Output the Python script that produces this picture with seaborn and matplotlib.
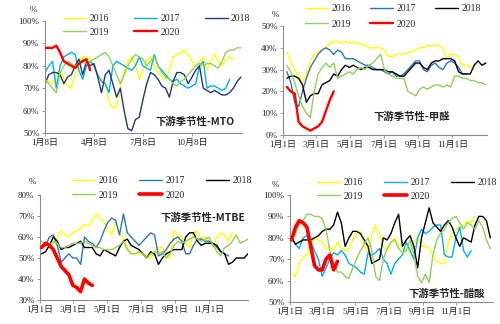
import numpy as np
import pandas as pd
import matplotlib
matplotlib.use("Agg")
import matplotlib.pyplot as plt
from matplotlib.lines import Line2D
import seaborn as sns

sns.set_theme(style="white")
plt.rcParams['font.family'] = ['Liberation Serif', 'Noto Sans CJK SC', 'DejaVu Sans']

years = ['2016', '2017', '2018', '2019', '2020']

# ---------------- MTO ----------------
mto_2016 = [74, 73, 72, 76, 78, 74, 71, 70, 76, 82, 84, 84, 83, 80, 76, 74, 72, 64, 61, 62,
            70, 78, 82, 84, 80, 74, 78, 82, 84, 80, 77, 75, 74, 78, 84, 85, 86, 87, 85, 82,
            80, 82, 84, 78, 82, 85, 82, 80, 83, 84, 83]
mto_2017 = [77, 80, 82, 70, 80, 84, 85, 86, 85, 78, 74, 80, 82, 80, 76, 73, 72, 68, 80, 82,
            81, 80, 79, 78, 80, 84, 80, 79, 78, 85, 80, 78, 76, 74, 73, 74, 72, 71, 70, 71,
            72, 80, 82, 70, 71, 71, 70, 69, 70, 74]
mto_2018 = [72, 76, 77, 77, 76, 72, 75, 76, 80, 83, 76, 82, 80, 81, 75, 68, 76, 78, 72, 66,
            70, 60, 52, 51, 56, 57, 65, 72, 77, 76, 74, 71, 70, 66, 73, 77, 77, 76, 72, 75,
            78, 80, 70, 69, 68, 69, 68, 67, 67, 68, 70, 73, 75]
mto_2019 = [74, 72, 70, 68, 77, 80, 82, 81, 80, 81, 83, 81, 82, 83, 84, 85, 86, 84, 80, 76,
            72, 76, 80, 83, 85, 84, 83, 80, 82, 84, 80, 77, 75, 74, 72, 71, 73, 74, 76, 78,
            80, 81, 80, 81, 81, 80, 79, 82, 86, 87, 87, 88, 88]
mto_2020 = [88, 88, 88, 89, 86, 82, 81, 80, 79, 81, 82, 83, 78]

# ---------------- 甲醛 ----------------
meth_2016 = [38, 34, 30, 27, 24, 28, 34, 37, 38, 39, 40, 42, 43, 43, 42, 43, 42, 43, 42, 42,
             41, 40, 40, 40, 40, 39, 36, 36, 37, 37, 37, 38, 38, 39, 40, 40, 41, 41, 41, 41,
             40, 35, 37, 37, 36, 32, 32, 31, 30]
meth_2017 = [29, 24, 15, 13, 20, 26, 31, 34, 37, 39, 40, 39, 37, 39, 38, 35, 35, 35, 34, 33,
             32, 32, 31, 30, 30, 29, 28, 29, 27, 27, 28, 30, 32, 34, 34, 30, 29, 32, 33, 31,
             30, 33, 34, 33, 31, 28, 28]
meth_2018 = [26, 27, 27, 26, 23, 15, 18, 19, 19, 23, 24, 25, 28, 27, 30, 32, 31, 32, 31, 30,
             31, 31, 30, 30, 30, 30, 29, 29, 28, 27, 27, 29, 31, 33, 33, 31, 30, 33, 34, 34,
             35, 35, 35, 34, 29, 28, 28, 28, 32, 34, 32, 33]
meth_2019 = [32, 29, 24, 18, 13, 10, 8, 20, 28, 31, 33, 31, 33, 26, 27, 28, 29, 28, 30, 31,
             30, 32, 33, 35, 37, 30, 28, 27, 26, 26, 26, 20, 19, 18, 21, 22, 21, 22, 23, 23,
             22, 23, 22, 27, 27, 26, 26, 25, 25, 24, 24, 23]
meth_2020 = [22, 20, 19, 6, 4, 3, 2, 3, 4, 6, 11, 16, 20]

# ---------------- MTBE ----------------
mtbe_2016 = [55, 57, 55, 57, 60, 63, 61, 60, 62, 63, 64, 66, 65, 68, 71, 69, 67, 64, 61, 67,
             62, 59, 55, 52, 52, 52, 52, 51, 50, 53, 55, 55, 52, 50, 63, 61, 60, 57, 55, 62,
             63, 59, 60, 58, 55, 60, 62, 61, 58, 62]
mtbe_2017 = [55, 56, 60, 61, 56, 48, 50, 52, 50, 50, 47, 60, 58, 57, 55, 58, 63, 67, 69, 68,
             61, 71, 62, 60, 58, 56, 58, 60, 62, 61, 51, 52, 54, 57, 59, 60, 58, 52, 52, 56,
             59, 59, 58, 58, 57, 55, 53, 52, 51]
mtbe_2018 = [52, 53, 56, 60, 58, 54, 55, 55, 56, 57, 58, 55, 55, 55, 52, 51, 54, 53, 52, 51,
             55, 58, 59, 56, 55, 54, 52, 50, 53, 52, 47, 50, 52, 53, 54, 54, 54, 60, 62, 62,
             58, 56, 57, 57, 57, 56, 53, 52, 47, 48, 50, 50, 50, 52]
mtbe_2019 = [58, 57, 56, 58, 57, 55, 55, 56, 57, 57, 57, 58, 57, 56, 55, 55, 54, 54, 54, 55,
             56, 58, 54, 52, 52, 53, 52, 50, 52, 53, 52, 53, 50, 52, 56, 58, 57, 58, 59, 60,
             59, 58, 59, 60, 56, 53, 51, 55, 56, 58, 61, 57, 58, 59]
mtbe_2020 = [55, 57, 56, 54, 50, 46, 44, 42, 37, 36, 34, 40, 38, 37]

# ---------------- 醋酸 ----------------
acet_2016 = [63, 62, 68, 71, 72, 76, 80, 79, 78, 75, 76, 74, 78, 75, 74, 75, 79, 82, 83, 77,
             73, 82, 86, 82, 76, 74, 78, 80, 77, 75, 74, 73, 78, 80, 76, 76, 75, 72, 69, 68,
             68, 78, 82, 84, 85, 86, 88, 87, 90]
acet_2017 = [80, 77, 75, 80, 81, 78, 74, 70, 62, 66, 70, 73, 72, 74, 72, 68, 67, 66, 64, 63,
             73, 72, 73, 75, 70, 68, 63, 68, 70, 72, 78, 74, 70, 80, 84, 82, 83, 85, 86, 86,
             72, 71, 71, 80, 85, 74, 71, 74]
acet_2018 = [80, 77, 78, 79, 79, 79, 80, 81, 83, 84, 84, 86, 92, 87, 76, 80, 83, 83, 82, 79,
             76, 68, 69, 70, 80, 79, 82, 87, 91, 76, 79, 81, 76, 66, 80, 87, 94, 87, 85, 83,
             86, 88, 85, 80, 76, 80, 79, 78, 86, 90, 90, 88, 80]
acet_2019 = [79, 82, 86, 88, 91, 91, 90, 90, 89, 84, 74, 68, 64, 64, 62, 61, 66, 70, 74, 77,
             80, 74, 62, 60, 70, 75, 78, 79, 75, 73, 74, 79, 72, 62, 59, 63, 59, 72, 79, 82,
             84, 87, 89, 90, 87, 84, 87, 86, 84, 88, 85, 79, 75]
acet_2020 = [79, 85, 88, 87, 85, 76, 67, 65, 65, 70, 72, 65, 69]

ticks_jan8 = [7, 98, 189, 280]
labels_jan8 = ['1月8日', '4月8日', '7月8日', '10月8日']
ticks_jan1 = [0, 59, 120, 181, 243, 304]
labels_jan1 = ['1月1日', '3月1日', '5月1日', '7月1日', '9月1日', '11月1日']

YELLOW = '#FFFF00'
CYAN = '#00B0F0'
BLUE = '#2E75B6'
NAVY = '#1F3A7A'
BLACK = '#000000'
GREEN = '#92CF5C'
RED = '#FF0000'

panels = [
    dict(series=[mto_2016, mto_2017, mto_2018, mto_2019, mto_2020], start=7,
         colors=[YELLOW, CYAN, NAVY, GREEN, RED], widths=[1.0, 1.0, 1.0, 1.0, 1.7],
         rect=[45, 21, 242, 133], ylim=(50, 100), xlim=(7, 373),
         ticks=ticks_jan8, labels=labels_jan8,
         title='下游季节性-MTO', title_xy=(195, 122), title_ha='center',
         pct_xy=(33, 10), leg_xy=(63, 14), colsp=2.6, lsp=0.5),
    dict(series=[meth_2016, meth_2017, meth_2018, meth_2019, meth_2020], start=7,
         colors=[YELLOW, BLUE, BLACK, GREEN, RED], widths=[1.0, 1.0, 1.0, 1.0, 1.7],
         rect=[283, 26, 487, 135], ylim=(0, 50), xlim=(0, 366),
         ticks=ticks_jan1, labels=labels_jan1,
         title='下游季节性-甲醛', title_xy=(412, 117), title_ha='center',
         pct_xy=(275, 15), leg_xy=(305, 4), colsp=2.0, lsp=0.7),
    dict(series=[mtbe_2016, mtbe_2017, mtbe_2018, mtbe_2019, mtbe_2020], start=3,
         colors=[YELLOW, BLUE, BLACK, GREEN, RED], widths=[1.0, 1.0, 1.0, 1.0, 2.6],
         rect=[40, 195, 248, 300], ylim=(30, 80), xlim=(0, 374),
         ticks=ticks_jan1, labels=labels_jan1,
         title='下游季节性-MTBE', title_xy=(160, 218), title_ha='left',
         pct_xy=(32, 182), leg_xy=(72, 176), colsp=2.2, lsp=0.6),
    dict(series=[acet_2016, acet_2017, acet_2018, acet_2019, acet_2020], start=3,
         colors=[YELLOW, CYAN, BLACK, GREEN, RED], widths=[1.0, 1.0, 1.0, 1.0, 2.6],
         rect=[290, 195, 493, 302], ylim=(50, 100), xlim=(0, 372),
         ticks=ticks_jan1, labels=labels_jan1,
         title='下游季节性-醋酸', title_xy=(447, 294), title_ha='center',
         pct_xy=(275, 185), leg_xy=(317, 178), colsp=2.2, lsp=0.5),
]

W, H = 500, 324
fig = plt.figure(figsize=(5.0, 3.24), dpi=100)
AXC = '#8C8C8C'

for p in panels:
    l, t, r, b = p['rect']
    ax = fig.add_axes([l / W, 1 - b / H, (r - l) / W, (b - t) / H])
    ax.set_facecolor('none')
    for yr, vals, c, lw in zip(years, p['series'], p['colors'], p['widths']):
        df = pd.DataFrame({'day': p['start'] + 7 * np.arange(len(vals)), 'value': vals})
        sns.lineplot(data=df, x='day', y='value', ax=ax, color=c, linewidth=lw,
                     legend=False, zorder=3 if yr == '2020' else 2)
    ax.set_xlim(*p['xlim'])
    ax.set_ylim(*p['ylim'])
    ax.set_xlabel('')
    ax.set_ylabel('')
    ax.set_xticks(p['ticks'])
    ax.set_xticklabels(p['labels'])
    yt = np.arange(p['ylim'][0], p['ylim'][1] + 1, 10)
    ax.set_yticks(yt)
    ax.set_yticklabels([f'{v}%' for v in yt])
    for s in ['top', 'right']:
        ax.spines[s].set_visible(False)
    for s in ['left', 'bottom']:
        ax.spines[s].set_color(AXC)
        ax.spines[s].set_linewidth(0.8)
    ax.tick_params(axis='both', which='both', direction='out', length=2.5, width=0.6,
                   color=AXC, labelsize=6.5, pad=1.5, bottom=True, left=True)
    ax.grid(False)

    # legend, row-wise order
    handles = [Line2D([0], [0], color=c, lw=lw) for c, lw in zip(p['colors'], p['widths'])]
    order = [0, 3, 1, 4, 2]
    ax.legend([handles[i] for i in order], [years[i] for i in order], ncol=3,
              loc='upper left', bbox_to_anchor=(p['leg_xy'][0] / W, 1 - p['leg_xy'][1] / H),
              bbox_transform=fig.transFigure, frameon=False, fontsize=7,
              handlelength=2.4, handletextpad=0.3, columnspacing=p['colsp'],
              labelspacing=p['lsp'], borderpad=0, borderaxespad=0)

    fig.text(p['pct_xy'][0] / W, 1 - p['pct_xy'][1] / H, '%', fontsize=6.5,
             ha='center', va='center')
    fig.text(p['title_xy'][0] / W, 1 - p['title_xy'][1] / H, p['title'], fontsize=7.5,
             fontweight='bold', ha=p['title_ha'], va='center',
             family=['Noto Sans CJK SC', 'DejaVu Sans'])

fig.savefig('out.png', dpi=100)
